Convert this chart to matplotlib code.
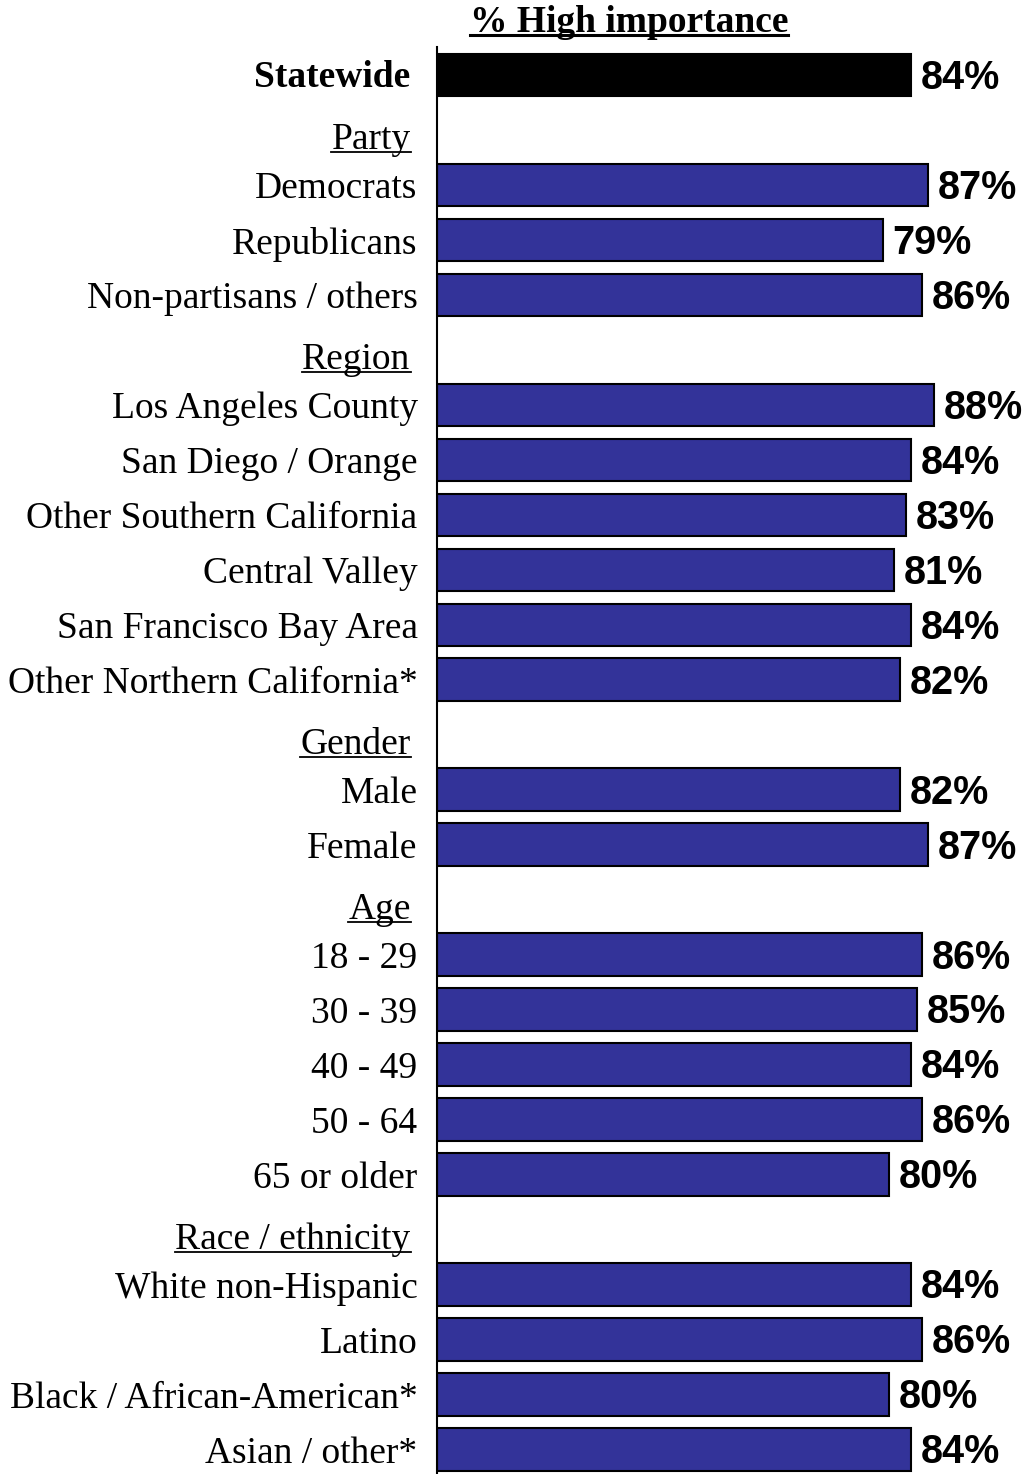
import matplotlib
matplotlib.use("Agg")
import matplotlib.pyplot as plt
from matplotlib import font_manager
from matplotlib.lines import Line2D

# survey result: share rating the issue of high importance
statewide_label = "Statewide"
statewide_value = 84

group_names = ["Party", "Region", "Gender", "Age", "Race / ethnicity"]
group_members = [
    ["Democrats", "Republicans", "Non-partisans / others"],
    ["Los Angeles County", "San Diego / Orange", "Other Southern California",
     "Central Valley", "San Francisco Bay Area", "Other Northern California*"],
    ["Male", "Female"],
    ["18 - 29", "30 - 39", "40 - 49", "50 - 64", "65 or older"],
    ["White non-Hispanic", "Latino", "Black / African-American*", "Asian / other*"],
]
group_values = [
    [87, 79, 86],
    [88, 84, 83, 81, 84, 82],
    [82, 87],
    [86, 85, 84, 86, 80],
    [84, 86, 80, 84],
]
title = "% High importance"

BLUE = "#333399"
SERIF = "Liberation Serif"
NUM_FONT = "Liberation Sans"
NUM_SIZE = 28.5
for cand in ["Liberation Sans Narrow", "Arial Narrow"]:
    try:
        font_manager.findfont(cand, fallback_to_default=False)
        NUM_FONT, NUM_SIZE = cand, 32
        break
    except Exception:
        pass

# build rows: (label, value or None for header, kind)
rows = [(statewide_label, statewide_value, "total")]
for name, members, vals in zip(group_names, group_members, group_values):
    rows.append((name, None, "header"))
    for m, v in zip(members, vals):
        rows.append((m, v, "item"))

W, H = 1027, 1474
fig = plt.figure(figsize=(W / 100, H / 100), dpi=100)
ax = fig.add_axes([437 / W, 0, 1 - 437 / W, 1 - 47 / H])

n = len(rows)
ax.set_ylim(n - 1 + 0.44, -0.51)
ax.set_xlim(0, (W - 437) / 5.645)

for i, (lbl, val, kind) in enumerate(rows):
    if val is not None:
        color = "black" if kind == "total" else BLUE
        ax.barh(i, val, height=0.78, color=color, edgecolor="black", linewidth=1.5)
        ax.annotate(f"{val}%", xy=(val, i), xytext=(7, 1), textcoords="offset points",
                    ha="left", va="center_baseline", fontsize=NUM_SIZE, fontweight="bold",
                    family=NUM_FONT)

texts_to_underline = []
for i, (lbl, val, kind) in enumerate(rows):
    if kind == "item":
        ax.annotate(lbl, xy=(0, i), xycoords=("axes fraction", "data"), xytext=(-14, 0),
                    textcoords="offset points", ha="right", va="center_baseline",
                    fontsize=27, family=SERIF)
    elif kind == "total":
        ax.annotate(lbl, xy=(0, i), xycoords=("axes fraction", "data"), xytext=(-19, 1),
                    textcoords="offset points", ha="right", va="center_baseline",
                    fontsize=27, family=SERIF, fontweight="bold")
    else:
        t = ax.annotate(lbl, xy=(0, i), xycoords=("axes fraction", "data"),
                        xytext=(-19, -4), textcoords="offset points", ha="right",
                        va="center_baseline", fontsize=27, family=SERIF)
        texts_to_underline.append((t, 1.3))

ttl = fig.text(629 / W, 1 - 32 / H, title, ha="center", va="baseline", fontsize=27,
               family=SERIF, fontweight="bold")
texts_to_underline.append((ttl, 2.2))

for side in ["top", "right", "bottom"]:
    ax.spines[side].set_visible(False)
ax.spines["left"].set_linewidth(1.5)
ax.set_xticks([])
ax.set_yticks([])

# underline headers and title
fig.canvas.draw()
renderer = fig.canvas.get_renderer()
for t, lw in texts_to_underline:
    bb = t.get_window_extent(renderer)
    y = bb.y0 + 5
    fig.add_artist(Line2D([bb.x0 / W, bb.x1 / W], [y / H, y / H], color="black",
                          linewidth=lw, transform=fig.transFigure))

fig.savefig("out.png", dpi=100)
